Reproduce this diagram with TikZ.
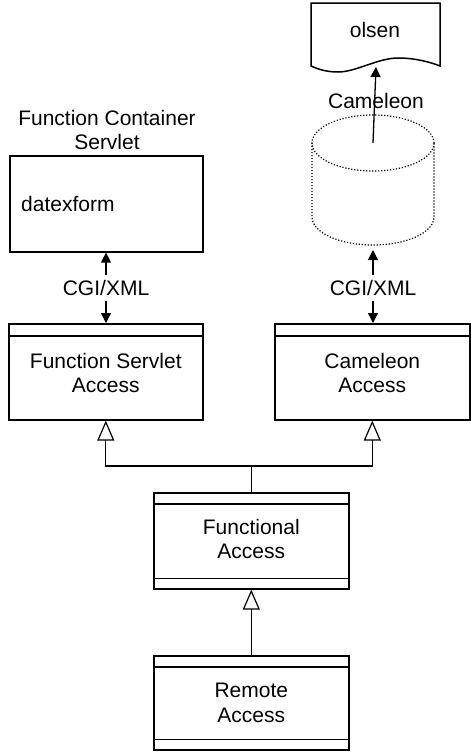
\documentclass[tikz,border=0pt]{standalone}
\usepackage{fontspec}
\setmainfont{Liberation Sans}
\usetikzlibrary{arrows.meta,calc}
\begin{document}
\begin{tikzpicture}[x=1pt,y=-1pt,
  every node/.style={font=\fontsize{21}{24.5}\selectfont, inner sep=0pt},
  box/.style={draw, line width=1.6pt, anchor=north west},
  comp/.style={line width=1.2pt},
  cgi/.style={anchor=north, inner sep=5pt},
  arr/.style={line width=1.3pt, -{Triangle[length=10pt,width=10pt]}},
  inh/.style={line width=1.3pt, -{Triangle[open,length=20pt,width=17pt,line width=1.2pt]}},
  cyl/.style={line width=1.2pt, dash pattern=on 1.2pt off 1.8pt}]
\useasboundingbox (0,0) rectangle (471,753);

% olsen document
\draw[line width=1.5pt] (311,3) -- (311,66)
  .. controls (320,70) and (328,72) .. (338,72)
  .. controls (356,72) and (378,58) .. (398,58)
  .. controls (415,58) and (430,62) .. (440,66) -- (440,3) -- cycle;
\node[anchor=north] (ols) at (375,22) {olsen};
\coordinate (olsbot) at (376,67);

% cylinder (dotted)
\coordinate (cyltop) at (373,143);
\coordinate (cylbot) at (373,250);
\draw[cyl] (cyltop) ellipse [x radius=61pt, y radius=28pt];
\draw[cyl] (312,143) -- (312,217)
  arc[start angle=180, end angle=360, x radius=61pt, y radius=28pt] -- (434,143);
\node[anchor=north] (caml) at (376,93) {Cameleon};
\draw[arr] (cyltop) -- (olsbot);

% function container servlet
\node[anchor=north, align=center] (fclab) at (107,110) {Function Container\\Servlet};
\node[box, minimum width=193pt, minimum height=96pt] (fc) at (9,155) {};
\node[anchor=north west] (dx) at (21,196) {datexform};

% class boxes
\node[box, minimum width=194pt, minimum height=96pt] (fsa) at (8,323) {};
\draw[comp] ([yshift=-13pt]fsa.north west) -- ([yshift=-13pt]fsa.north east);
\node[anchor=north, align=center] (fsal) at (fsa.north |- 0,353) {Function Servlet\\Access};

\node[box, minimum width=195pt, minimum height=96pt] (ca) at (274,323) {};
\draw[comp] ([yshift=-13pt]ca.north west) -- ([yshift=-13pt]ca.north east);
\node[anchor=north, align=center] (cal) at (ca.north |- 0,353) {Cameleon\\Access};

\node[box, minimum width=195pt, minimum height=96pt] (fa) at (153,492) {};
\draw[comp] ([yshift=-12pt]fa.north west) -- ([yshift=-12pt]fa.north east);
\draw[comp] ([yshift=11pt]fa.south west) -- ([yshift=11pt]fa.south east);
\node[anchor=north, align=center] (fal) at (fa.north |- 0,519) {Functional\\Access};

\node[box, minimum width=195pt, minimum height=94pt] (ra) at (153,655) {};
\draw[comp] ([yshift=-12pt]ra.north west) -- ([yshift=-12pt]ra.north east);
\draw[comp] ([yshift=11pt]ra.south west) -- ([yshift=11pt]ra.south east);
\node[anchor=north, align=center] (ral) at (ra.north |- 0,683) {Remote\\Access};

% CGI/XML connectors
\node[cgi] (cgi1) at (106,275) {CGI/XML};
\draw[arr] (cgi1.north) -- (cgi1.north |- fc.south);
\draw[arr] (cgi1.south) -- (cgi1.south |- fsa.north);
\node[cgi] (cgi2) at (373,275) {CGI/XML};
\draw[arr] (cgi2.north) -- (cgi2.north |- cylbot);
\draw[arr] (cgi2.south) -- (cgi2.south |- ca.north);

% inheritance
\coordinate (j) at (fa.north |- 0,466);
\draw[line width=1.3pt] (fa.north) -- (j);
\draw[inh] (j) -| (fsa.south);
\draw[inh] (j) -| (ca.south);
\draw[inh] (ra.north) -- (fa.south);
\end{tikzpicture}
\end{document}
